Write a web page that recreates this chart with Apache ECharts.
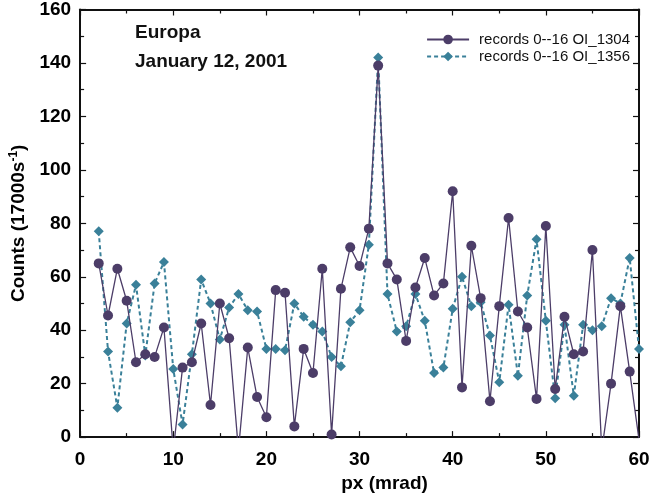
<!DOCTYPE html>
<html>
<head>
<meta charset="utf-8">
<script src="https://cdn.jsdelivr.net/npm/echarts@6/dist/echarts.min.js"></script>
<style>
html,body{margin:0;padding:0;background:#fff;}
#main{width:667px;height:498px;}
</style>
</head>
<body>
<div id="main"></div>
<script>
const pxValues = [2,3,4,5,6,7,8,9,10,11,12,13,14,15,16,17,18,19,20,21,22,23,24,25,26,27,28,29,30,31,32,33,34,35,36,37,38,39,40,41,42,43,44,45,46,47,48,49,50,51,52,53,54,55,56,57,58,59,60];
const oi1304 = [65,45.5,63,51,28,31,30,41,-5,26,28,42.5,12,50,37,-5,33.5,15,7.4,55,54,4,33,24,63,1,55.5,71,64,78,139,65,59,36,56,67,53,57.5,92,18.6,71.6,52,13.4,49,82,47,41,14.3,79,18,45,31,32,70,-5,20,49,24.5,-1];
const oi1356 = [77,32,11,42.5,57,30.5,57.5,65.5,25.5,4.7,31,59,50,36.5,48.5,53.5,47.5,47,33,33,32.5,50,45,42,39.5,30,26.5,43,47.5,72,142,53.5,39.5,41.5,53.5,43.5,24,26,48,60,49,50.5,38,20.5,49.5,23,53,74,43.5,14.5,42,15.5,42,40,41.5,52,50,67,33];
const seriesNames = ['records 0--16 OI_1304','records 0--16 OI_1356'];
const xTicks = [0,10,20,30,40,50,60];
const yTicks = [0,20,40,60,80,100,120,140,160];

const purple = '#4c3d68';
const teal = '#3a8099';
const FF = 'Liberation Sans, Arial, Helvetica, sans-serif';
const chart = echarts.init(document.getElementById('main'));
const pairs = (ys) => pxValues.map((x,i)=>[x, ys[i]]);
const labelFont = {color:'#000', fontFamily:FF, fontWeight:'bold', fontSize:19};
const axisCommon = {
  axisLine:{show:true, onZero:false, lineStyle:{color:'#111', width:2}},
  axisTick:{show:true, inside:true, length:6, lineStyle:{color:'#111', width:1.2}},
  minorTick:{show:true, splitNumber:2, length:4, lineStyle:{color:'#111', width:1.2}},
  splitLine:{show:false}
};
chart.setOption({
  animation:false,
  backgroundColor:'#fff',
  grid:{left:78, right:28, top:9, bottom:58.5},
  legend:{
    right:32, top:27, orient:'vertical', itemGap:2, itemWidth:42, itemHeight:12,
    textStyle:{fontFamily:FF, fontSize:15, color:'#111', padding:[0,0,0,5]},
    data:seriesNames
  },
  graphic:[
    {type:'text', left:135, top:23, style:{text:'Europa', font:'bold 19px "Liberation Sans", Arial, sans-serif', fill:'#111'}},
    {type:'text', left:135, top:52, style:{text:'January 12, 2001', font:'bold 19px "Liberation Sans", Arial, sans-serif', fill:'#111'}}
  ],
  xAxis:[
    Object.assign({type:'value', min:xTicks[0], max:xTicks[xTicks.length-1], interval:10, position:'bottom',
      name:'px (mrad)', nameLocation:'middle', nameGap:36,
      nameTextStyle:{color:'#000', fontFamily:FF, fontWeight:'bold', fontSize:19, padding:[0,0,0,50]},
      axisLabel:Object.assign({margin:13}, labelFont)}, axisCommon),
    Object.assign({type:'value', min:xTicks[0], max:xTicks[xTicks.length-1], interval:10, position:'top',
      axisLabel:{show:false}}, axisCommon)
  ],
  yAxis:[
    Object.assign({type:'value', min:yTicks[0], max:yTicks[yTicks.length-1], interval:20, position:'left',
      name:'{n|Counts (17000s}{s|-1}{n|)}', nameLocation:'middle', nameGap:43,
      nameTextStyle:{rich:{
        n:{color:'#000', fontFamily:FF, fontWeight:'bold', fontSize:19},
        s:{color:'#000', fontFamily:FF, fontWeight:'bold', fontSize:12, verticalAlign:'top', padding:[0,0,10,0]}
      }},
      axisLabel:Object.assign({margin:9}, labelFont)}, axisCommon),
    Object.assign({type:'value', min:yTicks[0], max:yTicks[yTicks.length-1], interval:20, position:'right',
      axisLabel:{show:false}}, axisCommon)
  ],
  series:[
    {name:seriesNames[0], type:'line', data:pairs(oi1304), symbol:'circle', symbolSize:10,
     lineStyle:{color:purple, width:1.3}, itemStyle:{color:purple}, clip:true, z:3},
    {name:seriesNames[1], type:'line', data:pairs(oi1356), symbol:'diamond', symbolSize:10,
     lineStyle:{color:teal, width:2, type:[4,3]}, itemStyle:{color:teal}, clip:true, z:2}
  ]
});
</script>
</body>
</html>
